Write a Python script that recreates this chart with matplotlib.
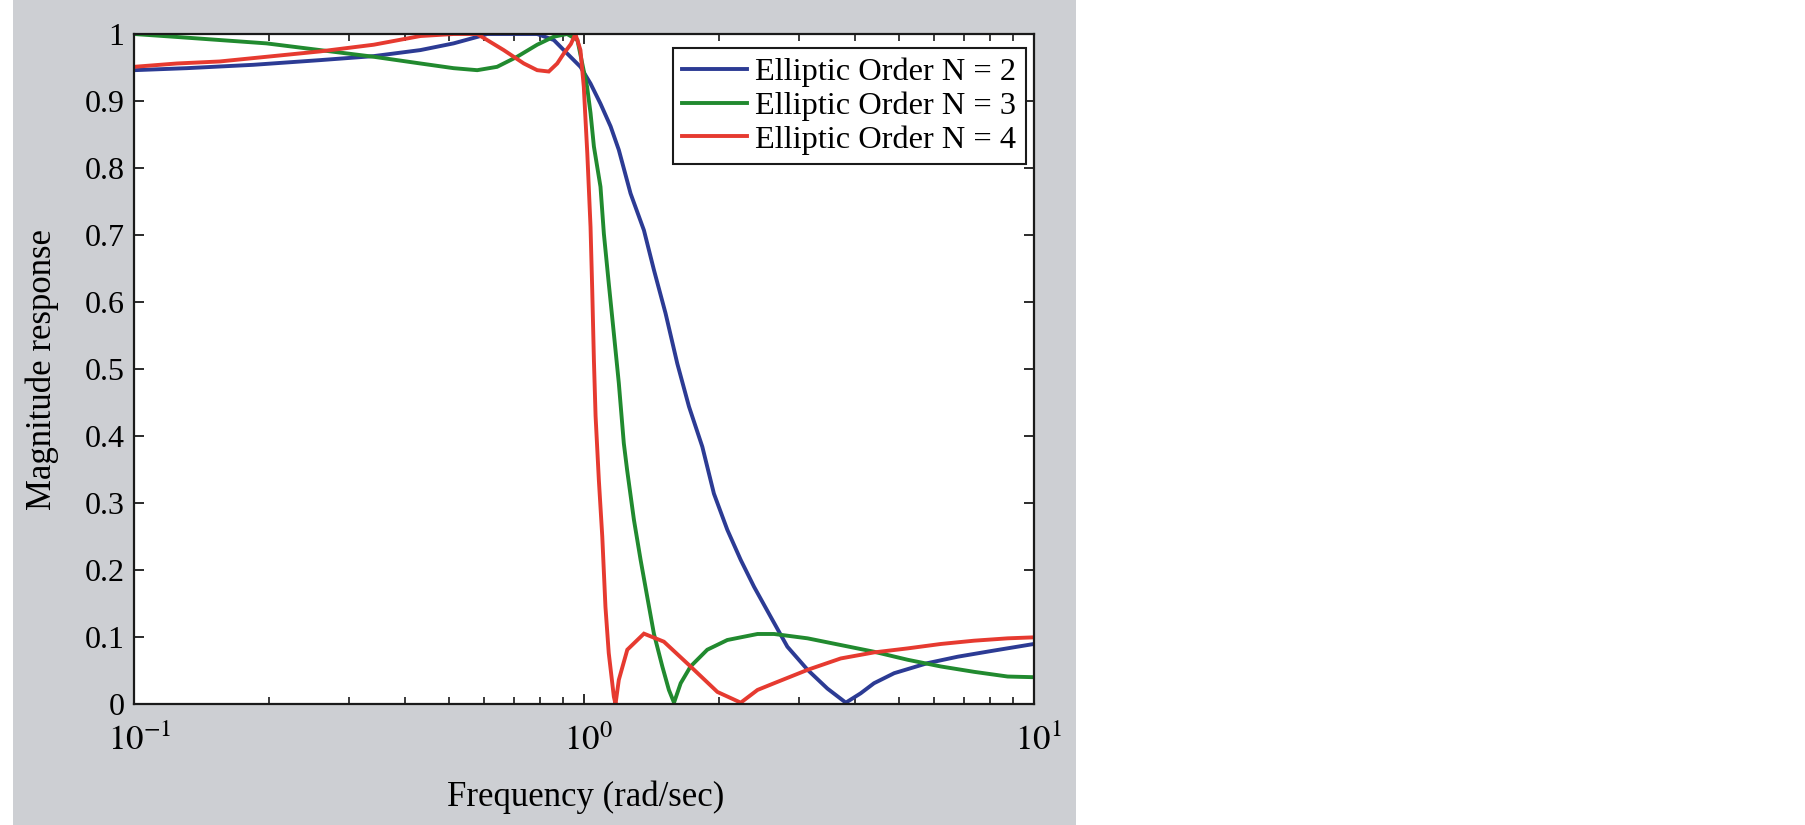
import numpy as np
import matplotlib.pyplot as plt
from matplotlib.patches import Rectangle
from matplotlib.transforms import ScaledTranslation
from matplotlib.ticker import FixedLocator, FixedFormatter, LogLocator, NullFormatter

plt.rcParams['font.family'] = ['Liberation Serif', 'DejaVu Serif']
plt.rcParams['mathtext.fontset'] = 'stix'

# values
freq_n2 = [0.1, 0.131, 0.184, 0.259, 0.341, 0.433, 0.513, 0.589, 0.609, 0.70, 0.787, 0.857,
           0.917, 0.982, 1.034, 1.088, 1.146, 1.195, 1.269, 1.359, 1.43, 1.518, 1.612, 1.711,
           1.832, 1.944, 2.082, 2.23, 2.387, 2.6, 2.831, 3.14, 3.475, 3.818, 4.12, 4.41, 4.89,
           5.80, 6.77, 8.02, 10]
mag_n2 = [0.946, 0.949, 0.954, 0.961, 0.967, 0.976, 0.986, 0.997, 1.0, 1.0, 1.0, 0.991,
          0.971, 0.951, 0.926, 0.896, 0.862, 0.827, 0.762, 0.707, 0.648, 0.583, 0.508, 0.444,
          0.384, 0.314, 0.26, 0.215, 0.175, 0.13, 0.0855, 0.051, 0.023, 0.002, 0.016, 0.031,
          0.046, 0.061, 0.0706, 0.079, 0.0896]

freq_n3 = [0.1, 0.122, 0.155, 0.197, 0.259, 0.341, 0.433, 0.513, 0.579, 0.641, 0.710, 0.787,
           0.857, 0.917, 0.967, 0.991, 1.016, 1.034, 1.052, 1.088, 1.107, 1.135, 1.165, 1.195,
           1.226, 1.247, 1.291, 1.336, 1.382, 1.43, 1.493, 1.544, 1.585, 1.64, 1.725, 1.879,
           2.082, 2.43, 2.645, 3.14, 3.72, 4.41, 5.24, 6.21, 7.36, 8.74, 10]
mag_n3 = [1.0, 0.996, 0.991, 0.986, 0.976, 0.966, 0.956, 0.949, 0.946, 0.951, 0.966, 0.984,
          0.996, 1.0, 0.991, 0.956, 0.921, 0.882, 0.832, 0.772, 0.702, 0.628, 0.553, 0.479,
          0.389, 0.349, 0.275, 0.215, 0.16, 0.105, 0.056, 0.021, 0.002, 0.031, 0.056, 0.081,
          0.0955, 0.1045, 0.1045, 0.098, 0.088, 0.078, 0.066, 0.056, 0.048, 0.041, 0.040]

freq_n4 = [0.1, 0.1245, 0.155, 0.197, 0.259, 0.341, 0.433, 0.513, 0.579, 0.663, 0.735, 0.787,
           0.835, 0.872, 0.902, 0.935, 0.957, 0.982, 0.999, 1.006, 1.017, 1.034, 1.043, 1.052,
           1.061, 1.079, 1.098, 1.116, 1.135, 1.165, 1.175, 1.195, 1.248, 1.359, 1.505, 1.725,
           1.979, 2.23, 2.43, 2.645, 3.14, 3.72, 4.41, 5.24, 6.21, 7.36, 8.74, 10]
mag_n4 = [0.951, 0.956, 0.959, 0.966, 0.974, 0.984, 0.997, 1.0, 1.0, 0.976, 0.956, 0.946,
          0.944, 0.956, 0.971, 0.985, 1.0, 0.976, 0.921, 0.882, 0.822, 0.712, 0.618, 0.513,
          0.43, 0.334, 0.25, 0.145, 0.076, 0.011, 0.0, 0.036, 0.081, 0.105, 0.093, 0.056,
          0.018, 0.002, 0.021, 0.031, 0.051, 0.068, 0.077, 0.083, 0.0896, 0.0945, 0.098, 0.0995]

labels = ["Elliptic Order N = 2", "Elliptic Order N = 3", "Elliptic Order N = 4"]
colors = ["#2c3b94", "#218a2f", "#e63a30"]
ytick_vals = [0, 0.1, 0.2, 0.3, 0.4, 0.5, 0.6, 0.7, 0.8, 0.9, 1]
ytick_labels = ["0", "0.1", "0.2", "0.3", "0.4", "0.5", "0.6", "0.7", "0.8", "0.9", "1"]
xtick_vals = [0.1, 1, 10]
xtick_labels = [r"$10^{-1}$", r"$10^{0}$", r"$10^{1}$"]

# %%
fig = plt.figure(figsize=(18.05, 8.25), dpi=100)
fig.patch.set_facecolor("white")
fig.add_artist(Rectangle((13 / 1805, 0.0), (1076 - 13) / 1805, 1.0,
                         transform=fig.transFigure, facecolor="#cdcfd3",
                         edgecolor="none", zorder=-5))

ax = fig.add_axes([134 / 1805, 1 - 704 / 825, (1034 - 134) / 1805, 670 / 825])
ax.set_facecolor("white")

for f, m, c, lab in zip([freq_n2, freq_n3, freq_n4], [mag_n2, mag_n3, mag_n4], colors, labels):
    ax.plot(f, m, color=c, lw=2.8, label=lab, solid_joinstyle="miter")

ax.set_xscale("log")
ax.set_xlim(0.1, 10)
ax.set_ylim(0, 1)
ax.xaxis.set_major_locator(FixedLocator(xtick_vals))
ax.xaxis.set_major_formatter(FixedFormatter(xtick_labels))
ax.xaxis.set_minor_locator(LogLocator(base=10, subs=np.arange(2, 10)))
ax.xaxis.set_minor_formatter(NullFormatter())
ax.yaxis.set_major_locator(FixedLocator(ytick_vals))
ax.yaxis.set_major_formatter(FixedFormatter(ytick_labels))

ax.tick_params(which="both", direction="in", top=True, right=True, color="#1a1a1a")
ax.tick_params(which="major", length=7, width=1.3)
ax.tick_params(which="minor", length=5, width=1.2)
ax.tick_params(axis="y", pad=7, labelsize=23)
ax.tick_params(axis="x", pad=15, labelsize=25)
for s in ax.spines.values():
    s.set_linewidth(1.6)
    s.set_color("#1a1a1a")

# centre the "10" part of each tick label under its tick
for lab, dx in zip(ax.get_xticklabels(), [6, 4, 4]):
    lab.set_transform(lab.get_transform() + ScaledTranslation(dx / 100, 0, fig.dpi_scale_trans))

ax.set_xlabel("Frequency (rad/sec)", fontsize=25)
ax.xaxis.label.set_va("center")
ax.xaxis.set_label_coords(0.502, (704 - 797) / 670)
ax.set_ylabel("Magnitude response", fontsize=25)
ax.yaxis.label.set_va("center")
ax.yaxis.set_label_coords((42 - 134) / 900, 0.5)

leg = ax.legend(loc="upper right", bbox_to_anchor=(0.991, 0.979), borderaxespad=0,
                fontsize=23.3, fancybox=False, framealpha=1, edgecolor="#1a1a1a",
                handlelength=2.0, handletextpad=0.25, labelspacing=0.12,
                borderpad=0.3)
leg.get_frame().set_linewidth(1.5)

fig.savefig("out.png", dpi=100)
